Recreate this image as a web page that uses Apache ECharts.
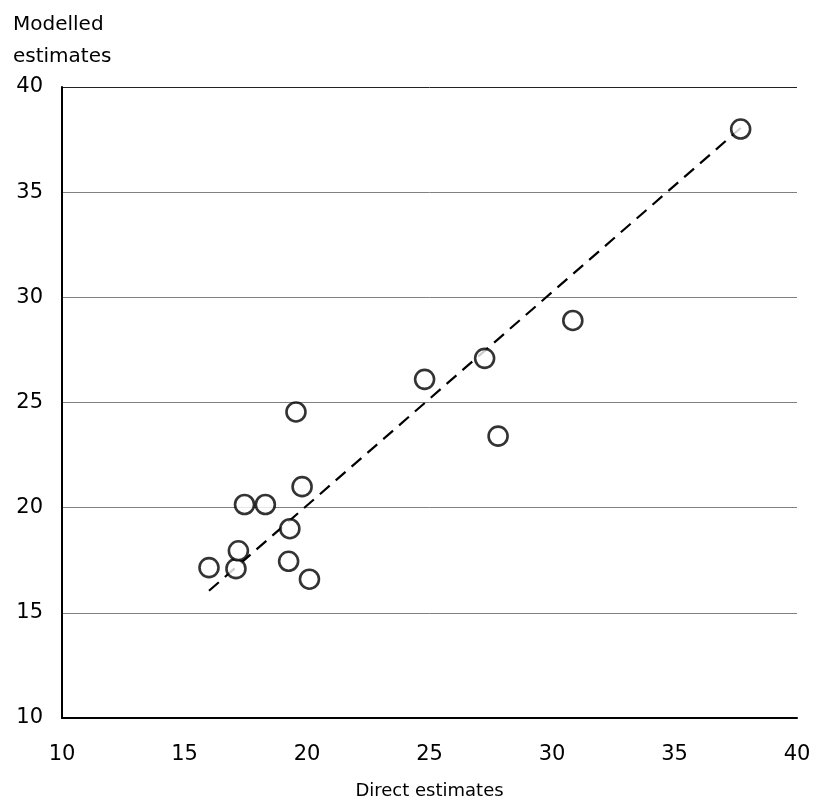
<!DOCTYPE html>
<html><head><meta charset="utf-8">
<script src="https://cdn.jsdelivr.net/npm/echarts@6/dist/echarts.min.js"></script>
<style>html,body{margin:0;padding:0;background:#fff}#c{width:814px;height:805px}</style>
</head><body><div id="c"></div>
<script>
const directEstimates = [16.0, 17.1, 17.2, 17.45, 18.3, 19.3, 19.25, 20.1, 19.8, 19.55, 24.8, 27.25, 27.8, 30.85, 37.7];
const modelledEstimates = [17.15, 17.1, 17.95, 20.15, 20.15, 19.0, 17.45, 16.6, 21.0, 24.55, 26.1, 27.1, 23.4, 28.9, 38.0];
const trendX = [16.0, 37.7];
const trendY = [16.05, 38.05];
const xTitle = 'Direct estimates';
const yTitle = 'Modelled\nestimates';

const font = 'DejaVu Sans';
const chart = echarts.init(document.getElementById('c'), null, {renderer: 'canvas'});
chart.setOption({
  animation: false,
  backgroundColor: '#fff',
  grid: {left: 62, right: 17, top: 87, bottom: 84},
  xAxis: {
    type: 'value', min: 10, max: 40, interval: 5,
    name: xTitle, nameLocation: 'middle', nameGap: 64,
    nameTextStyle: {fontFamily: font, fontSize: 18, color: '#000'},
    axisLine: {show: true, onZero: false, lineStyle: {color: '#000', width: 2}},
    axisTick: {show: false},
    axisLabel: {fontFamily: font, fontSize: 21, color: '#000', margin: 26},
    splitLine: {show: false}
  },
  yAxis: {
    type: 'value', min: 10, max: 40, interval: 5,
    name: yTitle, nameLocation: 'end', nameGap: 14,
    nameTextStyle: {fontFamily: font, fontSize: 20, color: '#000', align: 'left', padding: [0, 0, 0, -49], lineHeight: 32},
    axisLine: {show: true, onZero: false, lineStyle: {color: '#000', width: 2}},
    axisTick: {show: false},
    axisLabel: {fontFamily: font, fontSize: 21, color: '#000', margin: 19},
    splitLine: {show: true, lineStyle: {color: ['#808080', '#808080', '#808080', '#808080', '#808080', '#808080', '#222'], width: 1}}
  },
  series: [
    {
      type: 'line',
      data: trendX.map((x, i) => [x, trendY[i]]),
      symbol: 'none',
      lineStyle: {color: '#000', width: 2.2, type: [13, 8]},
      z: 2
    },
    {
      type: 'scatter',
      data: directEstimates.map((x, i) => [x, modelledEstimates[i]]),
      symbol: 'circle',
      symbolSize: 19,
      itemStyle: {color: '#fff', borderColor: '#000', borderWidth: 2.6},
      z: 3
    }
  ]
});
</script></body></html>
